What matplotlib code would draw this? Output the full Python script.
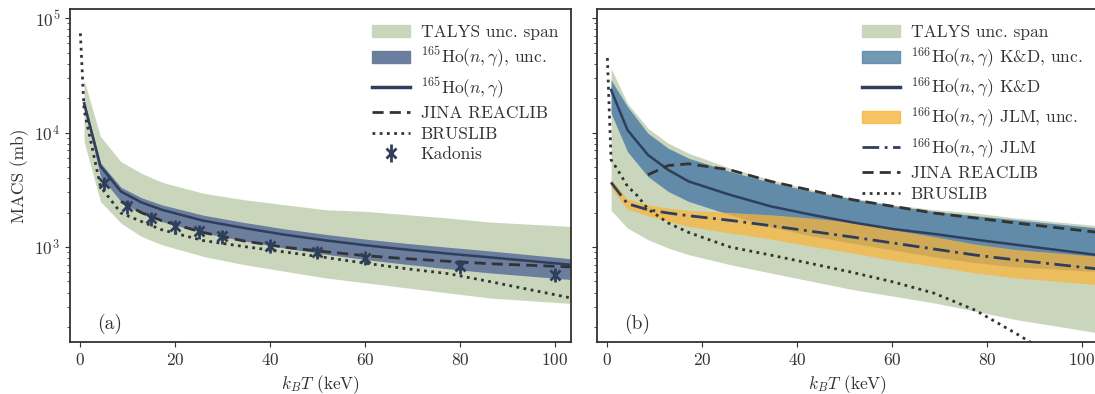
import matplotlib
matplotlib.use("Agg")
import matplotlib.pyplot as plt
from matplotlib.patches import Patch
from matplotlib.lines import Line2D

plt.rcParams["font.family"] = "serif"
plt.rcParams["font.serif"] = ["cmr10"]
plt.rcParams["mathtext.fontset"] = "cm"
plt.rcParams["axes.formatter.use_mathtext"] = True
plt.rcParams["axes.unicode_minus"] = False
for key in ["text.color", "axes.labelcolor", "xtick.color", "ytick.color", "axes.edgecolor"]:
    plt.rcParams[key] = "#333333"

# temperature grid (T9 = 0.01 ... 1.2) in keV
kT = [0.862, 4.31, 8.62, 12.9, 17.2, 25.9, 34.5, 43.1, 51.7, 60.3, 68.9, 77.6, 86.2, 103.4]
kT_jina = kT[2:]

# ---- (a) 165Ho ----
talys_a_lo = [8360, 2500, 1618, 1239, 1048, 829, 702, 614, 537, 486, 439, 397, 359, 321]
talys_a_hi = [28800, 9230, 5580, 4415, 3690, 2957, 2590, 2340, 2117, 2048, 1915, 1791, 1652, 1514]
ho165 = [18000, 5100, 3055, 2456, 2118, 1700, 1466, 1281, 1143, 1034, 948, 875, 813, 700]
ho165_hi = [19600, 5450, 3330, 2700, 2340, 1900, 1640, 1440, 1290, 1170, 1075, 995, 925, 790]
ho165_lo = [16900, 4150, 2500, 1960, 1670, 1330, 1130, 980, 865, 775, 705, 645, 595, 520]
jina_a = [2500, 2000, 1700, 1340, 1130, 995, 910, 838, 790, 750, 715, 670]
kT_brus_a = [0.086, 0.862, 4.31, 8.62, 12.9, 17.2, 25.9, 34.5, 43.1, 51.7, 60.3, 68.9, 77.6, 86.2, 103.4]
brus_a = [73500, 15800, 3380, 1980, 1675, 1416, 1140, 1010, 905, 810, 720, 645, 585, 500, 359]
kT_kad = [5, 10, 15, 20, 25, 30, 40, 50, 60, 80, 100]
kad = [3620, 2265, 1790, 1515, 1370, 1240, 1030, 905, 805, 680, 575]
kad_err = [500, 320, 250, 210, 190, 170, 145, 125, 110, 95, 80]

# ---- (b) 166Ho ----
talys_b_lo = [2090, 1465, 1159, 980, 857, 702, 593, 502, 425, 372, 325, 275, 232, 178]
talys_b_hi = [36400, 18000, 10900, 8070, 6600, 4890, 3865, 3162, 2675, 2340, 2117, 1980, 1791, 1535]
kd = [23550, 10540, 6380, 4720, 3740, 2858, 2265, 1913, 1641, 1435, 1300, 1160, 1045, 850]
kd_hi = [28800, 16870, 9860, 7290, 5970, 4570, 3665, 3055, 2624, 2293, 2048, 1877, 1730, 1465]
kd_lo = [14760, 6825, 4130, 3055, 2500, 1913, 1500, 1250, 1080, 940, 820, 730, 670, 610]
jlm = [3665, 2390, 2117, 1980, 1877, 1710, 1535, 1370, 1222, 1083, 960, 850, 770, 643]
jlm_hi = [3917, 2624, 2340, 2190, 2090, 2004, 1913, 1791, 1641, 1416, 1230, 1060, 950, 829]
jlm_lo = [3273, 2143, 1877, 1675, 1514, 1325, 1175, 1013, 887, 765, 678, 593, 537, 470]
jina_b = [4275, 5150, 5330, 4720, 3740, 3120, 2590, 2265, 1980, 1791, 1618, 1343]
kT_brus_b = [0.086, 0.862, 2.15, 4.31, 6.46, 8.62, 12.9, 17.2, 25.9, 34.5, 43.1, 51.7, 60.3, 68.9, 77.6, 86.2, 103.4]
brus_b = [44800, 5780, 4800, 3400, 2790, 2150, 1620, 1340, 1000, 850, 715, 600, 495, 395, 280, 175, 65]

c_talys = "#cad6bb"
c_band165 = "#6b7e9d"
c_line = "#2f3e5c"
c_kd = "#5b87a8"
c_jlm = "#f7b53d"
c_ref = "#333333"

dash = (0, (4, 2.2))
dots = (0, (1, 1.6))
dashdot = (0, (6, 2, 1, 2))

fig = plt.figure(figsize=(10.95, 3.94), dpi=100)
ax1 = fig.add_axes([70 / 1095, 52 / 394, 501 / 1095, 333 / 394])
ax2 = fig.add_axes([597 / 1095, 52 / 394, 501 / 1095, 333 / 394], sharey=ax1)

fs = 12.5
leg_kw = dict(loc="upper left", frameon=False, fontsize=fs, handlelength=2.2,
              handletextpad=0.6, labelspacing=0.3, borderaxespad=0.5)

# (a)
ax1.fill_between(kT, talys_a_lo, talys_a_hi, color=c_talys, lw=0)
ax1.fill_between(kT, ho165_lo, ho165_hi, color=c_band165, lw=0)
ax1.plot(kT, ho165, color=c_line, lw=1.8)
ax1.plot(kT_jina, jina_a, color=c_ref, lw=2, ls=dash)
ax1.plot(kT_brus_a, brus_a, color=c_ref, lw=2, ls=dots)
ax1.errorbar(kT_kad, kad, yerr=kad_err, fmt="x", color=c_line, ms=7, mew=2, elinewidth=2, capsize=0)

h_a = [Patch(color=c_talys), Patch(color=c_band165),
       Line2D([], [], color=c_line, lw=2.5),
       Line2D([], [], color=c_ref, lw=2, ls=dash),
       Line2D([], [], color=c_ref, lw=2, ls=dots),
       ax1.errorbar([], [], yerr=[], fmt="x", color=c_line, ms=7, mew=2, elinewidth=2, capsize=0)]
l_a = ["TALYS unc. span", r"$^{165}$Ho$(n,\gamma)$, unc.", r"$^{165}$Ho$(n,\gamma)$",
       "JINA REACLIB", "BRUSLIB", "Kadonis"]
ax1.legend(h_a, l_a, bbox_to_anchor=(0.572, 1.0), **leg_kw)

# (b)
ax2.fill_between(kT, talys_b_lo, talys_b_hi, color=c_talys, lw=0)
ax2.fill_between(kT, kd_lo, kd_hi, color=c_kd, lw=0, alpha=0.95)
ax2.fill_between(kT, jlm_lo, jlm_hi, color=c_jlm, lw=0, alpha=0.75)
ax2.plot(kT, kd, color=c_line, lw=1.8)
ax2.plot(kT, jlm, color=c_line, lw=2, ls=dashdot)
ax2.plot(kT_jina, jina_b, color=c_ref, lw=2, ls=dash)
ax2.plot(kT_brus_b, brus_b, color=c_ref, lw=2, ls=dots)

h_b = [Patch(color=c_talys), Patch(color=c_kd, alpha=0.85),
       Line2D([], [], color=c_line, lw=2.5),
       Patch(color=c_jlm, alpha=0.8),
       Line2D([], [], color=c_line, lw=2, ls=dashdot),
       Line2D([], [], color=c_ref, lw=2, ls=dash),
       Line2D([], [], color=c_ref, lw=2, ls=dots)]
l_b = ["TALYS unc. span", r"$^{166}$Ho$(n,\gamma)$ K&D, unc.", r"$^{166}$Ho$(n,\gamma)$ K&D",
       r"$^{166}$Ho$(n,\gamma)$ JLM, unc.", r"$^{166}$Ho$(n,\gamma)$ JLM",
       "JINA REACLIB", "BRUSLIB"]
ax2.legend(h_b, l_b, bbox_to_anchor=(0.498, 1.0), **leg_kw)

for ax, tag in [(ax1, "(a)"), (ax2, "(b)")]:
    ax.set_yscale("log")
    ax.set_xlim(-2.1, 103.4)
    ax.set_ylim(148, 1.2e5)
    ax.set_xticks([0, 20, 40, 60, 80, 100])
    ax.set_xlabel(r"$k_BT$ (keV)", fontsize=fs)
    ax.tick_params(labelsize=fs)
    for s in ax.spines.values():
        s.set_linewidth(1.3)
    ax.text(0.054, 0.025, tag, transform=ax.transAxes, fontsize=14, ha="left", va="bottom")

ax1.set_ylabel("MACS (mb)", fontsize=fs)
ax2.tick_params(labelleft=False)

fig.savefig("out.png", dpi=100)
